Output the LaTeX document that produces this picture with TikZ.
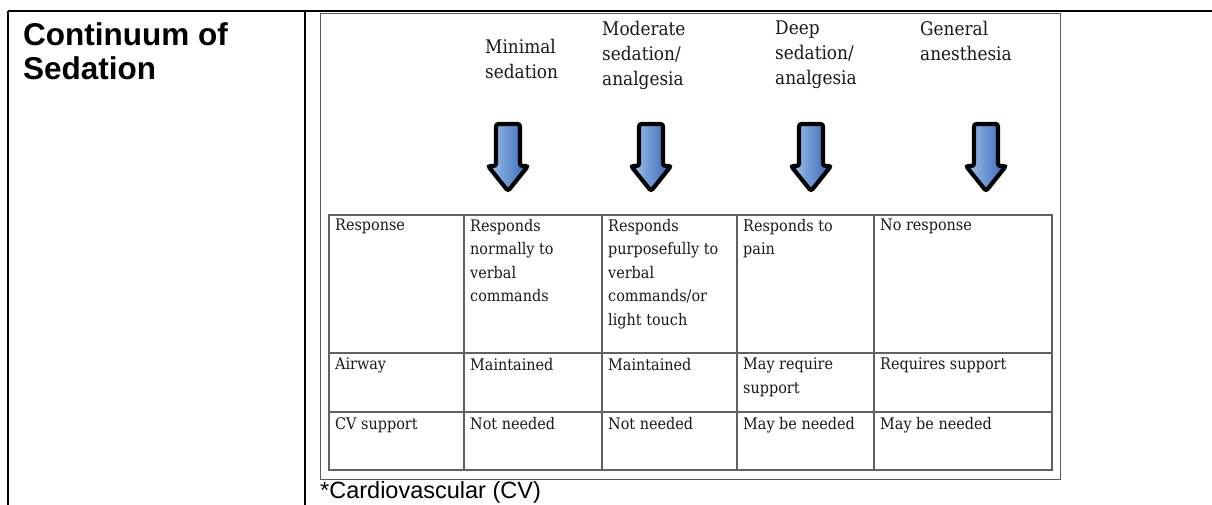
\documentclass[tikz,border=0pt]{standalone}
\usepackage{fontspec}
\setmainfont{DejaVu Serif Condensed}
\newfontfamily\arialfont{Liberation Sans}
\begin{document}
\begin{tikzpicture}[x=1pt,y=-1pt,
  outerline/.style={line width=2.5pt,black},
  gridline/.style={line width=1.3pt,black!62},
  framebox/.style={line width=1pt,black!65},
  hdr/.style={anchor=north west,inner sep=0pt,align=left,text=black!90,font=\fontsize{18.8}{25}\selectfont},
  cell/.style={anchor=north west,inner sep=0pt,align=left,text=black!90,font=\fontsize{16}{23.5}\selectfont},
  blockarrow/.style={line width=4.2pt,black,rounded corners=2.5pt,
    left color={rgb,255:red,160;green,196;blue,238},right color={rgb,255:red,52;green,100;blue,180}}
]
\useasboundingbox (0,0) rectangle (1212,504);
% outer table
\draw[outerline] (8,11) -- (1212,11);
\draw[outerline] (8,11) -- (8,506);
\draw[outerline] (305,11) -- (305,506);
\node[anchor=north west,inner sep=0pt,align=left,font=\arialfont\bfseries\fontsize{31.5}{34.5}\selectfont] (title) at (23,22) {Continuum of\\Sedation};
% image frame
\draw[framebox] (320,13) rectangle (1060,479);
% headers
\node[hdr] (h1) at (485,39) {Minimal\\sedation};
\node[hdr] (h2) at (602,21) {Moderate\\sedation/\\analgesia};
\node[hdr] (h3) at (775,21) {Deep\\sedation/\\analgesia};
\node[hdr] (h4) at (920,21) {General\\anesthesia};
% arrows
\foreach \cx in {508,651,811,986}{
  \draw[blockarrow] (\cx-12,124) -- (\cx+12,124) -- (\cx+12,166) -- (\cx+20,166) -- (\cx,191) -- (\cx-20,166) -- (\cx-12,166) -- cycle;
}
% table grid
\draw[gridline] (329,215) rectangle (1052,470);
\draw[gridline] (329,353) -- (1052,353);
\draw[gridline] (329,412) -- (1052,412);
\foreach \gx in {464,602,737,874}{\draw[gridline] (\gx,215) -- (\gx,470);}
% cells
\node[cell] (r1c1) at (335,219) {Response};
\node[cell] (r1c2) at (470,219) {Responds\\normally to\\verbal\\commands};
\node[cell] (r1c3) at (608,219) {Responds\\purposefully to\\verbal\\commands/or\\light touch};
\node[cell] (r1c4) at (743,219) {Responds to\\pain};
\node[cell] (r1c5) at (880,219) {No response};
\node[cell] (r2c1) at (335,358) {Airway};
\node[cell] (r2c2) at (470,358) {Maintained};
\node[cell] (r2c3) at (608,358) {Maintained};
\node[cell] (r2c4) at (743,358) {May require\\support};
\node[cell] (r2c5) at (880,358) {Requires support};
\node[cell] (r3c1) at (335,417) {CV support};
\node[cell] (r3c2) at (470,417) {Not needed};
\node[cell] (r3c3) at (608,417) {Not needed};
\node[cell] (r3c4) at (743,417) {May be needed};
\node[cell] (r3c5) at (880,417) {May be needed};
% footnote
\node[anchor=base west,inner sep=0pt,font=\arialfont\fontsize{23.5}{27}\selectfont] (foot) at (320,498.5) {*Cardiovascular (CV)};
\end{tikzpicture}
\end{document}
